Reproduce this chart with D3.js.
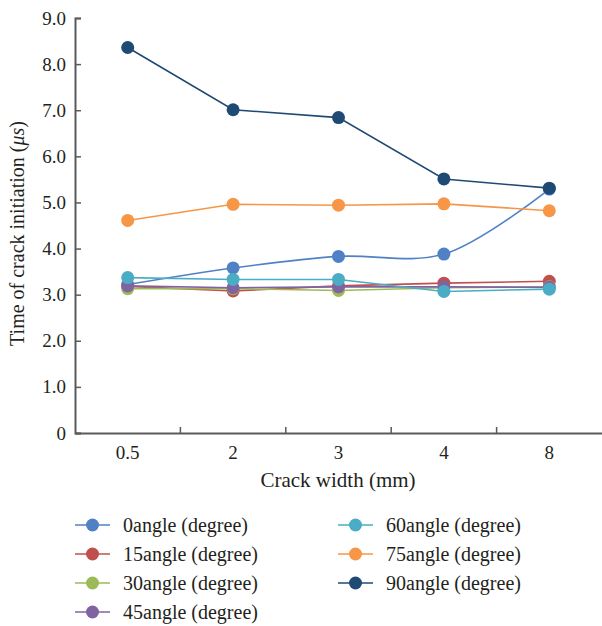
<!DOCTYPE html>
<html>
<head>
<meta charset="utf-8">
<script src="https://cdn.jsdelivr.net/npm/d3@7"></script>
<style>
  body { margin: 0; background: #fff; }
  svg text { font-family: "Liberation Serif", "DejaVu Serif", serif; fill: #231f20; }
</style>
</head>
<body>
<svg id="chart"></svg>
<script>
// crack widths (mm) on the x axis
const widths = ['0.5', '2', '3', '4', '8'];
const yTicks = [0, 1, 2, 3, 4, 5, 6, 7, 8, 9];

// time of crack initiation (us) per angle
const angle0 = [3.22, 3.58, 3.83, 3.88, 5.29];
const angle15 = [3.18, 3.08, 3.19, 3.25, 3.29];
const angle30 = [3.13, 3.13, 3.09, 3.15, 3.17];
const angle45 = [3.19, 3.15, 3.17, 3.17, 3.16];
const angle60 = [3.37, 3.33, 3.33, 3.07, 3.12];
const angle75 = [4.61, 4.96, 4.94, 4.97, 4.82];
const angle90 = [8.36, 7.01, 6.84, 5.51, 5.31];

const seriesNames = ['0angle (degree)', '15angle (degree)', '30angle (degree)', '45angle (degree)',
  '60angle (degree)', '75angle (degree)', '90angle (degree)'];
const seriesValues = [angle0, angle15, angle30, angle45, angle60, angle75, angle90];
const colors = ['#4f81c4', '#c0504d', '#9bbb59', '#8064a2', '#4bacc6', '#f79646', '#1f4a73'];
const smooth = [true, false, false, false, false, false, false];

const width = 602, height = 626;
const margin = {top: 18, left: 75, right: 0, bottom: 193};

const svg = d3.select('#chart')
    .attr('width', width)
    .attr('height', height);

const xScale = d3.scaleBand()
    .domain(widths)
    .range([margin.left, width - margin.right]);

const yScale = d3.scaleLinear()
    .domain([0, 9])
    .range([height - margin.bottom, margin.top]);

// Axes: ticks pointing inward
const yAxis = d3.axisRight(yScale)
    .tickValues(yTicks)
    .tickSize(6)
    .tickFormat(d => d === 0 ? '0' : d3.format('.1f')(d));

const yAxisG = svg.append('g')
    .attr('transform', `translate(${margin.left},0)`)
    .call(yAxis);
yAxisG.select('.domain').attr('stroke', '#5a5a5a').attr('stroke-width', 2);
yAxisG.selectAll('.tick line').attr('stroke', '#5a5a5a').attr('stroke-width', 1.5);
yAxisG.selectAll('.tick text')
    .attr('x', -9)
    .attr('text-anchor', 'end')
    .style('font-size', '19px');

const xAxis = d3.axisTop(xScale).tickSize(0);
const xAxisG = svg.append('g')
    .attr('transform', `translate(0,${yScale(0)})`)
    .call(xAxis);
xAxisG.select('.domain').attr('stroke', '#5a5a5a').attr('stroke-width', 2);
xAxisG.selectAll('.tick text')
    .attr('y', 26)
    .style('font-size', '19px');

// band boundary ticks on x axis
svg.append('g').selectAll('line')
    .data(widths.slice(1))
    .join('line')
    .attr('x1', d => xScale(d))
    .attr('x2', d => xScale(d))
    .attr('y1', yScale(0))
    .attr('y2', yScale(0) - 6)
    .attr('stroke', '#5a5a5a')
    .attr('stroke-width', 1.5);

// Axis titles
svg.append('text')
    .attr('x', 338)
    .attr('y', 487)
    .attr('text-anchor', 'middle')
    .style('font-size', '21px')
    .text('Crack width (mm)');

const yTitle = svg.append('text')
    .attr('transform', `translate(24,${(yScale(0) + yScale(9)) / 2 + 8}) rotate(-90)`)
    .attr('text-anchor', 'middle')
    .style('font-size', '20px');
yTitle.append('tspan').text('Time of crack initiation (');
yTitle.append('tspan').style('font-style', 'italic').text('\u03bcs');
yTitle.append('tspan').text(')');

// Series
const xPos = d => xScale(d) + xScale.bandwidth() / 2;
const series = seriesNames.map((name, i) => ({
  name: name,
  color: colors[i],
  smooth: smooth[i],
  points: widths.map((w, j) => ({w: w, v: seriesValues[i][j]}))
}));

const plot = svg.append('g');
series.forEach(s => {
  const line = d3.line()
      .x(d => xPos(d.w))
      .y(d => yScale(d.v))
      .curve(s.smooth ? d3.curveCatmullRom.alpha(0.5) : d3.curveLinear);
  plot.append('path')
      .datum(s.points)
      .attr('d', line)
      .attr('fill', 'none')
      .attr('stroke', s.color)
      .attr('stroke-width', 1.6);
});
series.forEach(s => {
  plot.append('g').selectAll('circle')
      .data(s.points)
      .join('circle')
      .attr('cx', d => xPos(d.w))
      .attr('cy', d => yScale(d.v))
      .attr('r', 6.5)
      .attr('fill', s.color);
});

// Legend, two columns
const legend = svg.append('g');
const legendCols = [75, 338];
const legendRows = [525, 554, 583, 612];
series.forEach((s, i) => {
  const col = i < 4 ? 0 : 1;
  const row = i < 4 ? i : i - 4;
  const g = legend.append('g')
      .attr('transform', `translate(${legendCols[col]},${legendRows[row]})`);
  g.append('line')
      .attr('x1', 0).attr('x2', 35)
      .attr('stroke', s.color)
      .attr('stroke-width', 1.6);
  g.append('circle')
      .attr('cx', 17.5)
      .attr('r', 6.5)
      .attr('fill', s.color);
  g.append('text')
      .attr('x', 48)
      .attr('dy', '0.33em')
      .style('font-size', '20px')
      .text(s.name);
});
</script>
</body>
</html>
